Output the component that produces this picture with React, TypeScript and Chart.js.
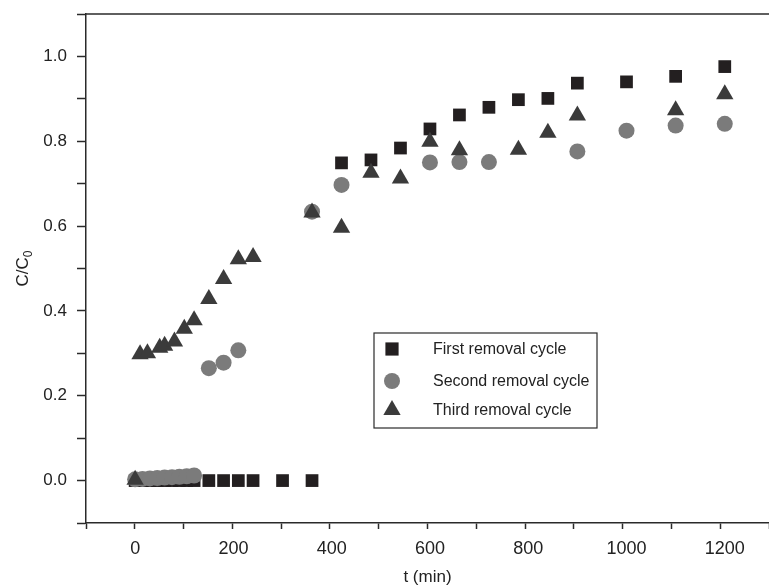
import React, { useEffect, useRef } from "react";
import { Chart, registerables } from "chart.js";

Chart.register(...registerables);

// ---- Data ----
const firstT = [0, 15, 30, 45, 60, 75, 90, 105, 120, 150, 180, 210, 240, 300, 360, 420, 480, 540, 600, 660, 720, 780, 840, 900, 1000, 1100, 1200];
const firstC = [0, 0, 0, 0, 0, 0, 0, 0, 0, 0, 0, 0, 0, 0, 0, 0.749, 0.756, 0.784, 0.829, 0.862, 0.880, 0.898, 0.901, 0.937, 0.940, 0.953, 0.976];

const secondT = [0, 15, 30, 45, 60, 75, 90, 105, 120, 150, 180, 210, 360, 420, 600, 660, 720, 900, 1000, 1100, 1200];
const secondC = [0.003, 0.004, 0.005, 0.006, 0.007, 0.008, 0.009, 0.010, 0.012, 0.265, 0.278, 0.307, 0.634, 0.697, 0.750, 0.751, 0.751, 0.776, 0.825, 0.837, 0.841];

const thirdT = [0, 10, 25, 50, 60, 80, 100, 120, 150, 180, 210, 240, 360, 420, 480, 540, 600, 660, 780, 840, 900, 1100, 1200];
const thirdC = [0.002, 0.298, 0.300, 0.313, 0.318, 0.328, 0.358, 0.378, 0.428, 0.475, 0.522, 0.527, 0.632, 0.596, 0.726, 0.712, 0.799, 0.779, 0.780, 0.820, 0.861, 0.873, 0.911];

const seriesNames = ["First removal cycle", "Second removal cycle", "Third removal cycle"];
const xTickValues = [0, 200, 400, 600, 800, 1000, 1200];
const xTitle = "t (min)";
const yTitleMain = "C/C";
const yTitleSub = "0";

const xMin = -100;
const xMax = 1290;
const yMin = -0.1;
const yMax = 1.1;

const COL_SQ = "#231f20";
const COL_CI = "#7b7b7b";
const COL_TR = "#3b3b3b";
const AXIS = "#2a2a2a";
const TEXT = "#222222";
const FONT = "'Liberation Sans', Arial, Helvetica, sans-serif";

function pts(t: number[], c: number[]) {
  return t.map((x, i) => ({ x, y: c[i] }));
}

function drawMarker(ctx: CanvasRenderingContext2D, kind: string, x: number, y: number) {
  ctx.save();
  ctx.beginPath();
  if (kind === "rect") {
    ctx.fillStyle = COL_SQ;
    const s = 6.6;
    ctx.rect(x - s, y - s, 2 * s, 2 * s);
  } else if (kind === "circle") {
    ctx.fillStyle = COL_CI;
    ctx.arc(x, y, 8, 0, Math.PI * 2);
  } else {
    ctx.fillStyle = COL_TR;
    const r = 10;
    ctx.moveTo(x, y - r);
    ctx.lineTo(x + r * Math.sin(Math.PI / 3), y + r / 2);
    ctx.lineTo(x - r * Math.sin(Math.PI / 3), y + r / 2);
    ctx.closePath();
  }
  ctx.fill();
  ctx.restore();
}

const decorPlugin = {
  id: "decor",
  afterDraw(chart: any) {
    const ctx: CanvasRenderingContext2D = chart.ctx;
    const ca = chart.chartArea;
    const xs = chart.scales.x;
    ctx.save();
    // top frame line
    ctx.strokeStyle = AXIS;
    ctx.lineWidth = 1.5;
    ctx.beginPath();
    ctx.moveTo(ca.left, ca.top);
    ctx.lineTo(ca.right, ca.top);
    ctx.stroke();

    // x tick labels, placed by the x scale
    ctx.fillStyle = TEXT;
    ctx.font = `18px ${FONT}`;
    ctx.textAlign = "center";
    ctx.textBaseline = "middle";
    xTickValues.forEach((v) => {
      ctx.fillText(String(v), xs.getPixelForValue(v), ca.bottom + 26);
    });

    // x title
    ctx.font = `17px ${FONT}`;
    ctx.fillText(xTitle, (ca.left + ca.right) / 2, 577);

    // y title with subscript
    ctx.save();
    ctx.translate(22, (ca.top + ca.bottom) / 2);
    ctx.rotate(-Math.PI / 2);
    ctx.font = `17px ${FONT}`;
    const wMain = ctx.measureText(yTitleMain).width;
    ctx.font = `12px ${FONT}`;
    const wSub = ctx.measureText(yTitleSub).width;
    const start = -(wMain + wSub) / 2;
    ctx.textAlign = "left";
    ctx.textBaseline = "alphabetic";
    ctx.font = `17px ${FONT}`;
    ctx.fillText(yTitleMain, start, 6);
    ctx.font = `12px ${FONT}`;
    ctx.fillText(yTitleSub, start + wMain, 10);
    ctx.restore();

    // legend
    const bx = ca.left + 288;
    const by = ca.top + 319;
    ctx.fillStyle = "#ffffff";
    ctx.fillRect(bx, by, 223, 95);
    ctx.strokeStyle = AXIS;
    ctx.lineWidth = 1.2;
    ctx.strokeRect(bx, by, 223, 95);
    const kinds = ["rect", "circle", "triangle"];
    const rows = [by + 16, by + 48, by + 77];
    ctx.font = `16px ${FONT}`;
    ctx.textAlign = "left";
    ctx.textBaseline = "middle";
    kinds.forEach((k, i) => {
      drawMarker(ctx, k, bx + 18, rows[i]);
      ctx.fillStyle = TEXT;
      ctx.fillText(seriesNames[i], bx + 59, rows[i] + 1);
    });
    ctx.restore();
  },
};

export default function App() {
  const ref = useRef<HTMLCanvasElement | null>(null);

  useEffect(() => {
    if (!ref.current) return;
    const chart = new Chart(ref.current, {
      type: "scatter",
      data: {
        datasets: [
          {
            label: seriesNames[0],
            data: pts(firstT, firstC),
            pointStyle: "rect",
            pointRadius: 9,
            pointHoverRadius: 9,
            backgroundColor: COL_SQ,
            borderColor: COL_SQ,
            borderWidth: 0,
            order: 2,
          },
          {
            label: seriesNames[1],
            data: pts(secondT, secondC),
            pointStyle: "circle",
            pointRadius: 8,
            pointHoverRadius: 8,
            backgroundColor: COL_CI,
            borderColor: COL_CI,
            borderWidth: 0,
            order: 1,
          },
          {
            label: seriesNames[2],
            data: pts(thirdT, thirdC),
            pointStyle: "triangle",
            pointRadius: 10,
            pointHoverRadius: 10,
            backgroundColor: COL_TR,
            borderColor: COL_TR,
            borderWidth: 0,
            order: 0,
          },
        ],
      },
      options: {
        responsive: false,
        animation: false,
        layout: { autoPadding: false, padding: { top: 14, right: 0, left: 0, bottom: 0 } },
        plugins: {
          legend: { display: false },
          tooltip: { enabled: false },
          title: { display: false },
        },
        scales: {
          x: {
            type: "linear",
            position: "bottom",
            min: xMin,
            max: xMax,
            afterFit(scale: any) {
              scale.height = 64;
              scale.paddingLeft = 0;
              scale.paddingRight = 0;
            },
            ticks: {
              display: false,
              stepSize: 100,
              includeBounds: false,
              autoSkip: false,
              maxRotation: 0,
            },
            grid: {
              drawOnChartArea: false,
              drawTicks: true,
              tickLength: 6,
              tickWidth: 1.5,
              tickColor: AXIS,
            },
            border: { display: true, color: AXIS, width: 1.5 },
          },
          y: {
            type: "linear",
            min: yMin,
            max: yMax,
            afterFit(scale: any) {
              scale.width = 86;
              scale.paddingTop = 0;
              scale.paddingBottom = 0;
            },
            ticks: {
              stepSize: 0.1,
              includeBounds: false,
              autoSkip: false,
              padding: 10,
              color: TEXT,
              font: { family: FONT, size: 17 },
              callback: (v: any) => {
                const n = Math.round(Number(v) * 10);
                return n % 2 === 0 ? (n / 10).toFixed(1) : "";
              },
            },
            grid: {
              drawOnChartArea: false,
              drawTicks: true,
              tickLength: 9,
              tickWidth: 1.5,
              tickColor: AXIS,
            },
            border: { display: true, color: AXIS, width: 1.5 },
          },
        },
      },
      plugins: [decorPlugin],
    } as any);
    return () => chart.destroy();
  }, []);

  return (
    <div style={{ position: "fixed", left: 0, top: 0, width: 769, height: 587, background: "#fff" }}>
      <canvas ref={ref} width={769} height={587} style={{ display: "block" }} />
    </div>
  );
}
